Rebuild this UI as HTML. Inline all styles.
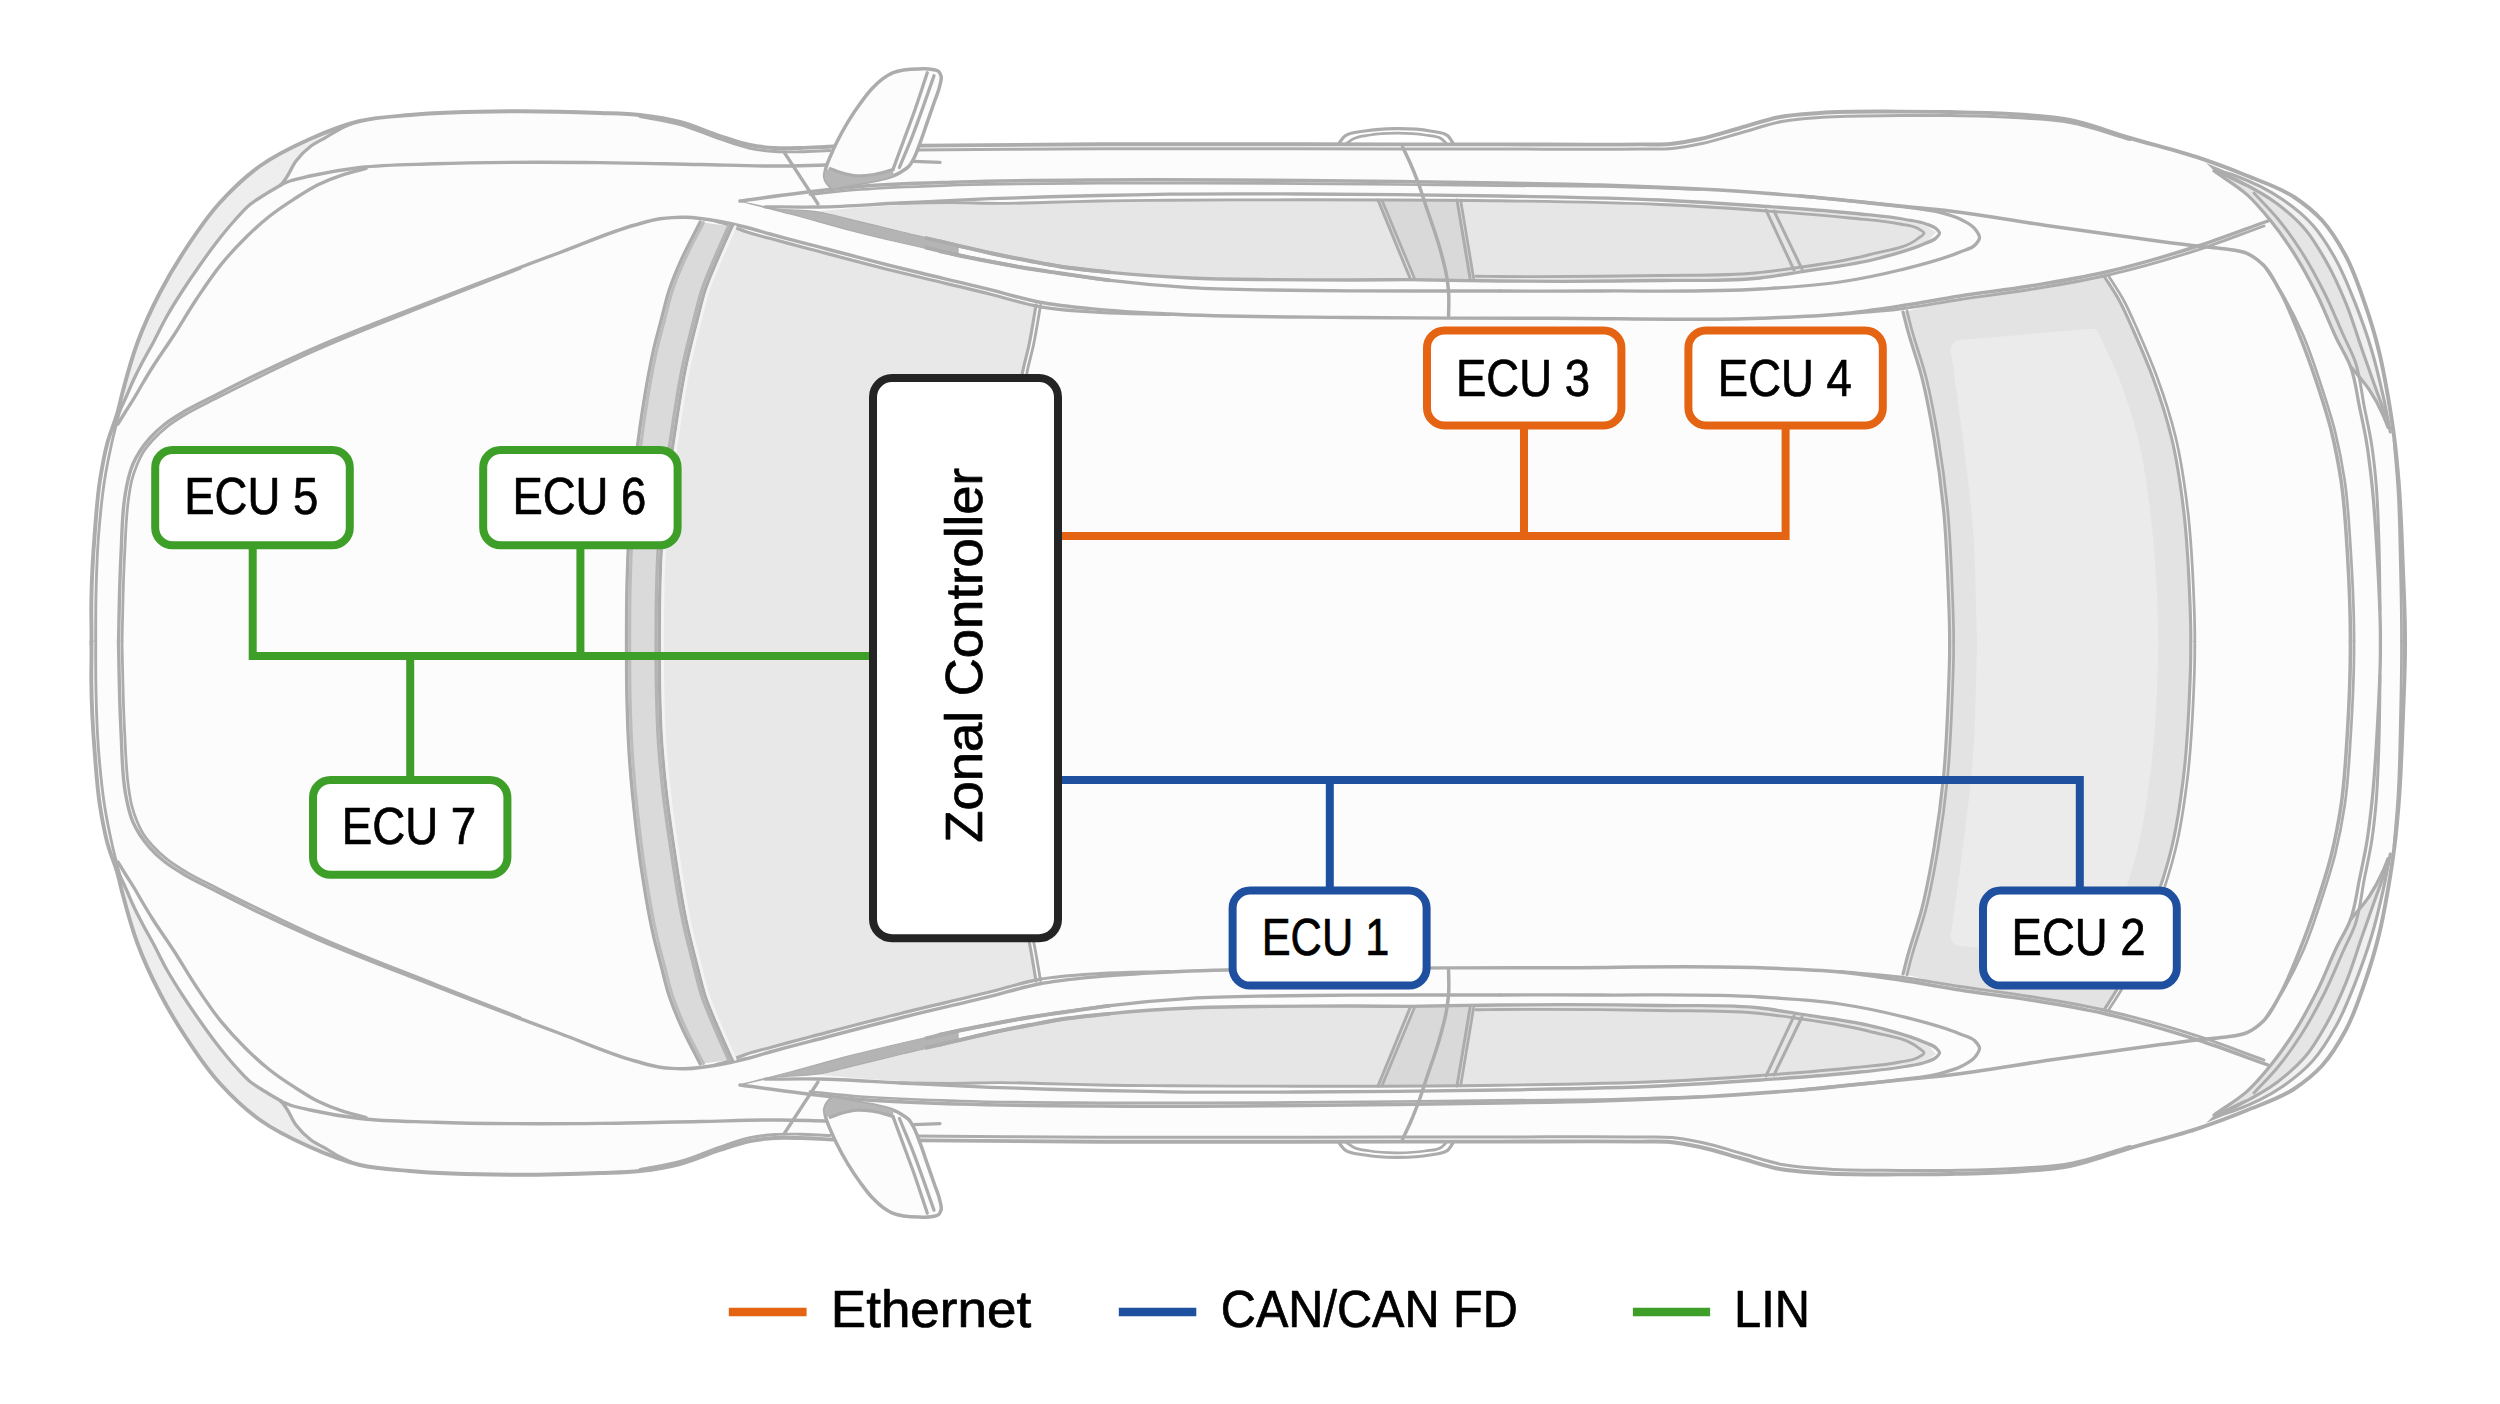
<!DOCTYPE html>
<html><head><meta charset="utf-8"><title>Zonal controller network</title>
<style>
html,body{margin:0;padding:0;background:#ffffff;}
body{width:2500px;height:1404px;overflow:hidden;}
svg{display:block;}
text{font-family:"Liberation Sans",sans-serif;}
</style></head><body>
<svg width="2500" height="1404" viewBox="0 0 2500 1404">
<rect width="2500" height="1404" fill="#ffffff"/>
<defs><g id="half">
<path d="M91.5 643.0 C91.4 630.3 91.1 617.7 91.3 605.0 C91.6 580.0 93.0 554.9 95.0 530.0 C96.3 513.3 97.4 496.5 100.0 480.0 C102.0 467.4 104.2 454.8 107.5 442.5 C110.3 432.3 114.6 422.6 117.5 412.5 C119.4 405.9 120.7 399.1 122.5 392.5 C126.9 375.7 131.5 358.8 137.5 342.5 C143.8 325.4 151.6 308.7 160.0 292.5 C167.6 277.9 176.0 263.7 185.0 250.0 C195.7 233.6 206.8 217.0 220.0 202.5 C232.1 189.2 245.4 176.4 260.0 166.0 C275.3 155.1 292.7 146.7 310.0 139.0 C326.1 131.8 342.9 125.0 360.0 121.0 C376.2 117.2 393.3 116.5 410.0 115.0 C443.2 111.9 476.7 111.6 510.0 111.3 C540.0 111.1 570.0 111.8 600.0 113.0 C613.3 113.5 626.8 113.5 640.0 115.0 C653.4 116.5 666.9 118.6 680.0 122.0 C693.6 125.5 706.6 131.7 720.0 136.0 C729.9 139.2 739.8 143.0 750.0 145.0 C758.2 146.6 766.6 147.5 775.0 148.0 C783.3 148.5 791.7 148.2 800.0 148.0 C811.3 147.8 822.7 146.9 834.0 146.5 C862.6 145.5 891.3 145.9 920.0 145.6 C980.0 145.0 1040.0 144.5 1100.0 144.3 C1166.7 144.0 1233.3 144.3 1300.0 144.3 C1366.7 144.3 1433.3 144.4 1500.0 144.4 C1546.7 144.4 1593.3 144.9 1640.0 144.4 C1650.0 144.3 1660.1 144.9 1670.0 144.0 C1680.1 143.1 1690.1 141.1 1700.0 139.0 C1713.5 136.1 1726.7 131.7 1740.0 128.0 C1753.3 124.3 1766.5 119.5 1780.0 117.0 C1793.1 114.6 1806.6 114.0 1820.0 113.0 C1846.6 111.1 1873.3 111.6 1900.0 111.6 C1916.7 111.6 1933.3 111.7 1950.0 112.0 C1970.0 112.4 1990.0 112.7 2010.0 114.0 C2030.0 115.3 2050.4 116.1 2070.0 120.0 C2090.4 124.0 2110.0 132.1 2130.0 138.0 C2153.3 144.9 2177.0 150.4 2200.0 158.2 C2215.8 163.6 2231.5 169.4 2247.0 175.8 C2262.9 182.3 2279.8 187.6 2294.0 197.0 C2304.1 203.7 2314.0 211.6 2322.2 220.5 C2331.6 230.8 2339.0 243.3 2345.7 255.7 C2353.7 270.5 2359.0 286.8 2364.5 302.7 C2369.9 318.1 2374.7 333.8 2378.6 349.7 C2382.5 365.2 2385.3 381.0 2388.0 396.7 C2390.7 412.3 2393.1 428.0 2395.0 443.7 C2396.4 455.8 2397.5 467.9 2398.5 480.0 C2401.0 509.9 2401.9 540.0 2403.0 570.0 C2403.9 594.3 2404.3 618.7 2405.0 643.0 L2405 644.0 L91.5 644.0 Z" fill="#fcfcfc" stroke="none"/>
<path d="M730.0 227.0 C743.3 230.7 756.7 234.3 770.0 238.0 C783.3 241.7 796.7 245.4 810.0 249.0 C839.9 257.1 869.9 265.0 900.0 272.5 C929.9 280.0 960.1 286.6 990.0 294.0 C1005.3 297.8 1020.7 301.7 1036.0 305.5 L1036.0 305.0 C1033.7 318.3 1031.8 331.8 1029.0 345.0 C1026.9 355.0 1023.9 364.9 1022.0 375.0 C1017.3 399.6 1016.9 425.0 1015.0 450.0 C1010.2 514.1 1011.7 578.7 1010.0 643.0 L1010 644.0 L657.3 644.0 L657.3 643.0 C657.5 623.7 657.4 604.3 657.9 585.0 C658.2 573.0 658.6 561.0 659.3 549.0 C660.3 532.6 661.8 516.3 663.5 500.0 C665.8 478.9 668.8 458.0 672.0 437.0 C675.8 411.9 679.3 386.8 684.7 362.0 C687.8 347.9 691.4 334.0 695.0 320.0 C697.6 310.0 699.8 299.8 703.0 290.0 C706.4 279.8 710.8 269.9 715.0 260.0 C719.8 248.6 725.0 237.3 730.0 226.0Z" fill="#e8e8e8" stroke="none"/>
<path d="M699.0 222.0 C692.7 234.7 685.7 247.1 680.0 260.0 C675.6 269.8 671.4 279.8 668.0 290.0 C664.8 299.8 662.6 310.0 660.0 320.0 C657.4 330.0 654.6 339.9 652.3 350.0 C647.6 370.5 644.2 391.2 641.0 412.0 C637.5 434.6 634.8 457.3 632.5 480.0 C630.4 500.0 628.6 520.0 627.5 540.0 C626.6 555.0 626.2 570.0 625.8 585.0 C625.3 604.3 625.5 623.7 625.3 643.0 L626 644.0 L657.3 644.0 L657.3 643.0 C657.5 623.7 657.4 604.3 657.9 585.0 C658.2 573.0 658.6 561.0 659.3 549.0 C660.3 532.6 661.8 516.3 663.5 500.0 C665.8 478.9 668.8 458.0 672.0 437.0 C675.8 411.9 679.3 386.8 684.7 362.0 C687.8 347.9 691.4 334.0 695.0 320.0 C697.6 310.0 699.8 299.8 703.0 290.0 C706.4 279.8 710.8 269.9 715.0 260.0 C719.8 248.6 725.0 237.3 730.0 226.0Z" fill="#dadada" stroke="none"/>
<path d="M819.0 211.0 C832.7 209.8 846.3 208.5 860.0 207.5 C873.3 206.5 886.7 205.7 900.0 205.0 C933.3 203.3 966.7 203.7 1000.0 203.0 C1033.3 202.3 1066.7 201.5 1100.0 201.0 C1166.7 200.0 1233.3 200.0 1300.0 200.0 C1366.7 200.0 1433.3 200.2 1500.0 200.8 C1553.3 201.3 1606.7 201.1 1660.0 203.0 C1693.3 204.2 1726.7 205.8 1760.0 208.0 C1793.4 210.2 1826.8 212.4 1860.0 216.0 C1875.0 217.6 1890.2 218.8 1905.0 221.5 C1912.0 222.8 1919.6 223.1 1926.0 226.0 C1929.5 227.6 1932.7 230.0 1936.0 232.0 L1936.0 232.0 C1933.3 235.0 1930.9 238.3 1928.0 241.0 C1915.9 252.2 1896.2 252.6 1880.0 257.0 C1853.9 264.1 1826.8 267.0 1800.0 271.0 C1786.7 273.0 1773.4 275.1 1760.0 276.5 C1726.9 280.0 1693.3 278.4 1660.0 279.0 C1606.7 279.9 1553.3 279.8 1500.0 279.8 C1470.0 279.8 1440.0 279.6 1410.0 279.6 C1373.3 279.6 1336.7 280.1 1300.0 279.8 C1263.3 279.5 1226.6 279.7 1190.0 278.0 C1163.3 276.7 1136.6 275.2 1110.0 272.4 C1093.3 270.6 1076.6 268.6 1060.0 266.0 C1050.0 264.4 1040.0 262.6 1030.0 260.8 C1016.7 258.4 1003.3 256.2 990.0 253.5 C978.3 251.1 966.6 248.3 955.0 245.5 C936.6 241.1 918.4 236.1 900.0 231.5 C883.4 227.4 866.7 223.3 850.0 219.3 C839.7 216.8 829.3 214.4 819.0 212.0Z" fill="#e6e6e6" stroke="none"/>
<path d="M1378.0 200.5 L1458.0 200.5 L1473.0 278.0 L1414.0 278.0Z" fill="#d9d9d9" stroke="none"/>
<path d="M1903.0 312.0 C1918.7 308.3 1934.3 304.3 1950.0 301.0 C1976.5 295.4 2003.3 291.3 2030.0 287.0 C2054.6 283.0 2079.3 279.7 2104.0 276.0 L2104.0 276.0 C2109.0 284.0 2114.4 291.8 2119.0 300.0 C2124.7 310.3 2129.2 321.2 2134.0 332.0 C2140.7 347.2 2147.3 362.4 2153.0 378.0 C2160.2 397.6 2166.7 417.7 2171.6 438.0 C2177.3 461.6 2180.7 485.9 2183.6 510.0 C2187.0 537.8 2188.4 566.0 2189.6 594.0 C2190.3 610.3 2190.4 626.7 2190.8 643.0 L2190.8 644.0 L1949.6 644.0 L1949.6 643.0 C1949.2 626.7 1949.0 610.3 1948.4 594.0 C1947.4 566.0 1946.3 537.9 1943.6 510.0 C1941.2 485.9 1938.0 461.9 1934.0 438.0 C1930.6 417.9 1927.0 397.7 1922.0 378.0 C1917.9 361.8 1911.9 346.1 1907.6 330.0 C1906.0 324.0 1904.5 318.0 1903.0 312.0Z" fill="#e3e3e3" stroke="none"/>
<path d="M1951 352 Q1950 341 1960 340 L2088 329 Q2096 328 2097 330 L2097.0 330.0 C2104.3 346.0 2112.4 361.7 2118.8 378.0 C2126.4 397.5 2133.0 417.7 2138.0 438.0 C2143.8 461.6 2146.9 485.9 2150.0 510.0 C2153.6 537.8 2155.6 565.9 2157.0 594.0 C2157.8 610.3 2157.9 626.7 2158.4 643.0 L2158.4 644.0 L1977.2 644.0 L1977.2 643.0 C1975.6 602.7 1975.8 562.2 1972.4 522.0 C1970.1 493.9 1966.3 466.0 1962.8 438.0 C1959.2 409.3 1954.9 380.7 1951.0 352.0Z" fill="#ebebeb" stroke="none"/>
<path d="M117.5 412.5 C119.2 405.8 120.7 399.1 122.5 392.5 C126.9 375.7 131.5 358.8 137.5 342.5 C143.8 325.4 151.6 308.7 160.0 292.5 C167.6 277.9 176.0 263.7 185.0 250.0 C195.7 233.6 206.8 217.0 220.0 202.5 C232.1 189.2 245.4 176.4 260.0 166.0 C275.3 155.1 292.7 146.6 310.0 139.0 C321.7 133.9 334.0 130.0 346.0 125.5 L352.0 123.6 C348.0 125.4 343.9 127.0 340.0 129.0 C335.2 131.5 330.7 134.6 326.0 137.3 C321.0 140.2 315.6 142.6 311.0 146.0 C305.4 150.2 300.2 155.4 296.0 161.0 C292.2 166.0 290.1 172.3 286.5 177.5 C284.8 180.1 282.8 182.5 281.0 185.0 L281.0 185.0 C275.7 188.2 270.2 191.2 265.0 194.5 C259.9 197.7 254.6 200.7 250.0 204.5 C244.5 209.0 239.8 214.7 235.0 220.0 C228.3 227.4 222.1 235.1 216.0 243.0 C210.5 250.2 205.2 257.6 200.0 265.0 C194.2 273.2 188.5 281.5 183.0 290.0 C177.5 298.5 172.0 307.1 167.0 316.0 C162.0 324.8 157.8 334.1 153.0 343.0 C149.2 350.0 145.2 356.9 141.5 364.0 C138.7 369.3 136.0 374.6 133.5 380.0 C131.2 384.9 129.2 390.0 127.0 395.0 C125.2 399.0 123.3 403.0 121.5 407.0 C120.2 410.0 118.8 413.0 117.5 416.0Z" fill="#eeeeee" stroke="none"/>
<path d="M2214.0 171.0 C2225.0 178.9 2237.0 185.6 2247.0 194.6 C2255.6 202.4 2263.2 211.5 2270.5 220.5 C2279.0 230.9 2286.8 242.1 2294.0 253.4 C2302.7 267.0 2310.3 281.3 2317.5 295.7 C2324.4 309.5 2329.7 324.1 2336.3 338.0 C2340.8 347.5 2345.7 356.8 2350.4 366.2 L2350.4 366.2 C2356.7 374.0 2363.7 381.4 2369.2 389.7 C2374.6 397.8 2378.6 406.9 2383.3 415.5 L2376.2 389.7 C2371.5 376.4 2366.8 363.0 2362.1 349.7 C2356.6 334.0 2352.0 318.0 2345.7 302.7 C2340.1 289.1 2334.1 275.6 2326.9 262.8 C2320.5 251.4 2314.1 239.8 2305.7 229.9 C2297.5 220.2 2287.6 211.7 2277.5 204.0 C2265.3 194.7 2251.4 187.4 2237.6 180.5 C2233.1 178.2 2228.5 176.2 2224.0 174.0Z" fill="#e5e5e5" stroke="none"/>
<path d="M2224.0 174.0 C2228.5 176.2 2233.1 178.2 2237.6 180.5 C2251.4 187.4 2265.3 194.7 2277.5 204.0 C2287.6 211.7 2297.5 220.2 2305.7 229.9 C2314.1 239.8 2320.5 251.4 2326.9 262.8 C2334.1 275.6 2340.1 289.1 2345.7 302.7 C2352.0 318.0 2356.6 334.0 2362.1 349.7 C2366.8 363.0 2371.4 376.4 2376.2 389.7 C2379.3 398.3 2382.5 406.9 2385.6 415.5 L2383.3 396.7 C2379.4 381.0 2376.1 365.2 2371.5 349.7 C2366.7 333.8 2361.1 318.1 2355.0 302.7 C2349.3 288.4 2343.7 273.8 2336.3 260.4 C2329.5 248.1 2322.1 235.6 2312.8 225.2 C2304.0 215.4 2293.2 206.8 2282.2 199.3 C2267.8 189.5 2251.6 181.7 2235.2 175.8 C2230.9 174.2 2226.4 172.9 2222.0 171.5Z" fill="#f0f0f0" stroke="none"/>
<path d="M91.5 644.5 C91.5 641.0 91.5 637.5 91.5 634.0 C91.5 624.3 91.2 614.7 91.3 605.0 C91.5 580.0 93.0 554.9 95.0 530.0 C96.3 513.3 97.4 496.5 100.0 480.0 C102.0 467.4 104.2 454.8 107.5 442.5 C110.3 432.3 114.6 422.6 117.5 412.5 C119.4 405.9 120.7 399.1 122.5 392.5 C126.9 375.7 131.5 358.8 137.5 342.5 C143.8 325.4 151.6 308.7 160.0 292.5 C167.6 277.9 176.0 263.7 185.0 250.0 C195.7 233.6 206.8 217.0 220.0 202.5 C232.1 189.2 245.4 176.4 260.0 166.0 C275.3 155.1 292.7 146.7 310.0 139.0 C326.1 131.8 342.9 125.0 360.0 121.0 C376.2 117.2 393.3 116.5 410.0 115.0 C443.2 111.9 476.7 111.6 510.0 111.3 C540.0 111.1 570.0 111.8 600.0 113.0 C613.3 113.5 626.8 113.5 640.0 115.0 C653.4 116.5 666.9 118.6 680.0 122.0 C693.6 125.5 706.6 131.7 720.0 136.0 C729.9 139.2 739.8 143.0 750.0 145.0 C758.2 146.6 766.6 147.5 775.0 148.0 C783.3 148.5 791.7 148.2 800.0 148.0 C811.3 147.8 822.7 146.9 834.0 146.5 C862.6 145.5 891.3 145.9 920.0 145.6 C980.0 145.0 1040.0 144.5 1100.0 144.3 C1166.7 144.0 1233.3 144.3 1300.0 144.3 C1366.7 144.3 1433.3 144.4 1500.0 144.4 C1546.7 144.4 1593.3 144.9 1640.0 144.4 C1650.0 144.3 1660.1 144.9 1670.0 144.0 C1680.1 143.1 1690.1 141.1 1700.0 139.0 C1713.5 136.1 1726.7 131.7 1740.0 128.0 C1753.3 124.3 1766.5 119.5 1780.0 117.0 C1793.1 114.6 1806.6 114.0 1820.0 113.0 C1846.6 111.1 1873.3 111.6 1900.0 111.6 C1916.7 111.6 1933.3 111.7 1950.0 112.0 C1970.0 112.4 1990.0 112.7 2010.0 114.0 C2030.0 115.3 2050.4 116.1 2070.0 120.0 C2090.4 124.0 2110.0 132.1 2130.0 138.0 C2153.3 144.9 2177.0 150.4 2200.0 158.2 C2215.8 163.6 2231.5 169.4 2247.0 175.8 C2262.9 182.3 2279.8 187.6 2294.0 197.0 C2304.1 203.7 2314.0 211.6 2322.2 220.5 C2331.6 230.8 2339.0 243.3 2345.7 255.7 C2353.7 270.5 2359.0 286.8 2364.5 302.7 C2369.9 318.1 2374.7 333.8 2378.6 349.7 C2382.5 365.2 2385.3 381.0 2388.0 396.7 C2390.7 412.3 2393.1 428.0 2395.0 443.7 C2396.4 455.8 2397.5 467.9 2398.5 480.0 C2401.0 509.9 2401.8 540.0 2403.0 570.0 C2403.8 591.3 2404.9 612.7 2405.0 634.0 C2405.0 637.5 2405.0 641.0 2405.0 644.5" fill="none" stroke="#acacac" stroke-width="3.91" stroke-linecap="round" stroke-linejoin="round" />
<path d="M915.0 150.0 C976.7 149.6 1038.3 149.0 1100.0 148.8 C1166.7 148.6 1233.3 148.8 1300.0 148.8 C1366.7 148.8 1433.3 149.0 1500.0 149.0 C1546.7 149.0 1593.3 149.6 1640.0 149.0 C1650.7 148.9 1661.4 149.5 1672.0 148.5 C1682.1 147.6 1692.1 145.6 1702.0 143.5 C1715.5 140.6 1728.7 136.2 1742.0 132.5 C1755.3 128.8 1768.5 124.0 1782.0 121.5 C1795.1 119.0 1808.6 118.3 1822.0 117.3 C1847.9 115.3 1874.0 115.8 1900.0 115.6 C1916.7 115.5 1933.3 115.4 1950.0 115.6 C1970.0 115.9 1990.0 116.2 2010.0 117.3 C2030.0 118.4 2050.3 118.9 2070.0 122.5 C2090.4 126.2 2110.0 133.8 2130.0 139.5" fill="none" stroke="#acacac" stroke-width="3.0" stroke-linecap="round" stroke-linejoin="round" />
<path d="M640.0 116.5 C653.3 119.2 666.9 120.9 680.0 124.5 C693.6 128.3 706.5 134.5 720.0 139.0 C729.9 142.3 739.8 146.2 750.0 148.3 C758.2 150.0 766.6 150.9 775.0 151.5 C783.3 152.1 791.7 151.9 800.0 151.8 C810.0 151.7 820.0 150.9 830.0 150.5" fill="none" stroke="#acacac" stroke-width="2.86" stroke-linecap="round" stroke-linejoin="round" />
<path d="M120.0 410.0 C117.3 420.7 114.4 431.3 112.0 442.0 C109.2 454.6 106.6 467.3 104.6 480.0 C102.0 496.6 100.4 513.3 99.0 530.0 C96.9 554.9 96.2 580.0 95.8 605.0 C95.7 614.7 95.7 624.3 95.7 634.0 C95.7 637.5 95.7 641.0 95.7 644.5" fill="none" stroke="#acacac" stroke-width="2.86" stroke-linecap="round" stroke-linejoin="round" />
<path d="M520.0 268.5 C492.0 279.5 463.9 290.4 436.0 301.5 C394.3 318.1 352.2 333.7 311.3 352.2 C294.3 359.9 277.4 368.0 260.6 376.2 C246.2 383.2 231.9 390.3 217.7 397.6 C207.4 402.9 196.8 407.6 186.9 413.6 C180.2 417.6 173.3 421.7 167.2 426.6 C162.0 430.7 157.0 435.3 152.6 440.2 C149.1 444.1 145.7 448.1 143.0 452.5 C140.4 456.7 138.4 461.4 136.5 466.0 C134.5 470.9 132.9 475.9 131.6 481.0 C130.5 485.3 129.9 489.7 129.2 494.0 C125.9 514.1 125.7 534.6 124.6 555.0 C123.2 580.0 122.9 605.0 122.3 630.0 C122.2 634.8 122.1 639.7 122.0 644.5" fill="none" stroke="#acacac" stroke-width="2.79" stroke-linecap="round" stroke-linejoin="round" />
<path d="M118.5 644.5 C118.6 639.7 118.7 634.8 118.8 630.0 C119.2 605.0 119.7 580.0 121.0 555.0 C122.1 534.1 121.8 513.0 125.5 492.5 C126.2 488.3 127.0 484.1 128.0 480.0 C129.3 474.6 130.8 469.1 133.0 464.0 C134.9 459.5 137.4 455.1 140.0 451.0 C142.9 446.4 146.4 442.1 150.0 438.0 C154.5 432.9 159.7 428.2 165.0 424.0 C171.2 419.1 178.2 415.1 185.0 411.0 C195.0 405.1 205.6 400.3 216.0 395.0 C230.3 387.7 244.6 380.5 259.0 373.5 C275.9 365.4 292.9 357.6 310.0 350.0 C351.0 331.8 393.2 316.3 435.0 300.0 C476.5 283.8 518.2 268.0 560.0 252.5 C585.0 243.2 609.4 232.1 635.0 225.0 C643.3 222.7 651.5 220.0 660.0 218.8 C664.0 218.2 668.0 217.8 672.0 217.6 C676.3 217.3 680.7 217.2 685.0 217.3 C696.7 217.5 708.4 219.4 720.0 221.5 C728.4 223.0 736.7 224.9 745.0 227.0 C753.4 229.1 761.7 231.7 770.0 234.0 C783.3 237.6 796.7 241.1 810.0 244.6 C840.0 252.5 869.9 260.5 900.0 268.0 C929.9 275.5 960.1 282.1 990.0 289.6 C1006.2 293.7 1022.2 298.8 1038.6 302.0 C1058.1 305.8 1078.1 307.5 1098.0 309.4 C1121.9 311.7 1146.0 312.8 1170.0 314.0 C1229.9 317.1 1290.0 316.8 1350.0 317.5 C1416.7 318.3 1483.3 318.1 1550.0 318.2 C1620.0 318.3 1690.1 320.9 1760.0 318.2 C1786.7 317.2 1813.4 316.6 1840.0 314.0 C1860.1 312.0 1880.0 309.0 1900.0 306.0 C1920.0 303.0 1940.0 299.1 1960.0 296.0 C1983.3 292.4 2006.7 289.8 2030.0 286.0 C2055.4 281.9 2080.9 277.7 2106.0 272.0 C2137.0 264.9 2167.7 255.8 2198.0 246.0 C2221.6 238.4 2244.7 229.3 2268.0 221.0" fill="none" stroke="#acacac" stroke-width="3.42" stroke-linecap="round" stroke-linejoin="round" />
<path d="M716.0 221.2 C720.0 222.3 724.1 223.2 728.0 224.6 C731.1 225.7 734.0 227.1 737.0 228.3 C739.8 229.4 742.6 230.6 745.5 231.6 C753.6 234.5 762.2 236.3 770.5 238.6 C783.8 242.2 797.2 245.7 810.5 249.2 C840.5 257.1 870.4 265.1 900.5 272.6 C930.4 280.1 960.6 286.7 990.5 294.2 C1006.7 298.3 1022.7 303.6 1039.1 306.6 C1059.1 310.3 1079.7 311.2 1100.0 312.5 C1123.3 314.0 1146.7 313.8 1170.0 314.5" fill="none" stroke="#acacac" stroke-width="3.14" stroke-linecap="round" stroke-linejoin="round" />
<path d="M1840.0 314.5 C1860.0 312.7 1880.1 311.5 1900.0 309.0 C1920.1 306.5 1940.0 302.5 1960.0 299.5 C1983.3 296.0 2006.7 293.3 2030.0 289.5 C2055.4 285.4 2080.9 281.2 2106.0 275.5 C2137.0 268.5 2167.7 259.7 2198.0 249.8 C2220.2 242.6 2242.0 233.9 2264.0 226.0" fill="none" stroke="#acacac" stroke-width="2.86" stroke-linecap="round" stroke-linejoin="round" />
<path d="M352.0 123.6 C348.0 125.4 343.9 127.0 340.0 129.0 C335.2 131.5 330.7 134.6 326.0 137.3 C321.0 140.2 315.6 142.6 311.0 146.0 C305.4 150.2 300.2 155.4 296.0 161.0 C292.2 166.0 290.1 172.3 286.5 177.5 C284.8 180.1 282.8 182.5 281.0 185.0" fill="none" stroke="#acacac" stroke-width="3.28" stroke-linecap="round" stroke-linejoin="round" />
<path d="M281.0 185.0 C275.7 188.2 270.2 191.2 265.0 194.5 C259.9 197.7 254.6 200.7 250.0 204.5 C244.5 209.0 239.8 214.7 235.0 220.0 C228.3 227.4 222.1 235.1 216.0 243.0 C210.5 250.2 205.2 257.6 200.0 265.0 C194.2 273.2 188.5 281.5 183.0 290.0 C177.5 298.5 172.0 307.1 167.0 316.0 C162.0 324.8 157.8 334.1 153.0 343.0 C149.2 350.0 145.2 356.9 141.5 364.0 C138.7 369.3 136.0 374.6 133.5 380.0 C131.2 384.9 129.2 390.0 127.0 395.0 C125.2 399.0 123.3 403.0 121.5 407.0 C120.2 410.0 118.8 413.0 117.5 416.0" fill="none" stroke="#acacac" stroke-width="3.28" stroke-linecap="round" stroke-linejoin="round" />
<path d="M281.0 184.5 C284.0 183.3 287.0 182.0 290.0 181.0 C296.5 178.8 303.3 177.5 310.0 176.0 C326.5 172.3 343.2 169.5 360.0 167.5 C384.8 164.5 410.0 164.7 435.0 163.8 C490.0 161.7 545.0 162.1 600.0 162.6 C633.3 162.9 666.7 163.9 700.0 164.5 C726.7 165.0 753.3 166.2 780.0 166.0 C795.3 165.9 810.7 165.3 826.0 165.0" fill="none" stroke="#acacac" stroke-width="3.42" stroke-linecap="round" stroke-linejoin="round" />
<path d="M914.0 161.4 C922.7 161.7 931.3 162.1 940.0 162.4" fill="none" stroke="#acacac" stroke-width="3.28" stroke-linecap="round" stroke-linejoin="round" />
<path d="M366.0 168.5 C358.0 170.7 349.9 172.5 342.0 175.1 C333.8 177.8 325.7 180.9 318.0 184.7 C309.5 188.9 301.6 194.2 293.7 199.3 C285.4 204.6 277.2 210.1 269.5 216.2 C261.0 222.9 253.0 230.4 245.3 238.0 C236.8 246.4 228.6 255.3 221.0 264.6 C212.3 275.3 204.6 287.0 196.9 298.5 C188.9 310.4 181.8 322.9 174.0 335.0 C166.8 346.1 159.0 356.8 152.0 368.0 C149.1 372.6 146.3 377.3 143.5 382.0 C140.4 387.1 137.6 392.4 134.5 397.5 C131.4 402.6 128.1 407.5 125.0 412.5 C122.6 416.3 120.3 420.2 118.0 424.0" fill="none" stroke="#acacac" stroke-width="3.35" stroke-linecap="round" stroke-linejoin="round" />
<path d="M700.2 222.0 C693.9 234.7 686.9 247.1 681.2 260.0 C676.8 269.8 672.6 279.8 669.2 290.0 C666.0 299.8 663.8 310.0 661.2 320.0 C658.6 330.0 655.8 339.9 653.5 350.0 C648.8 370.5 645.4 391.2 642.2 412.0 C638.7 434.6 636.0 457.3 633.7 480.0 C631.6 500.0 629.8 520.0 628.7 540.0 C627.8 555.0 627.4 570.0 627.0 585.0 C626.6 601.3 626.5 617.7 626.5 634.0 C626.5 637.5 626.5 641.0 626.5 644.5" fill="none" stroke="#acacac" stroke-width="3.28" stroke-linecap="round" stroke-linejoin="round" />
<path d="M703.4 222.5 C697.1 235.2 690.1 247.6 684.4 260.5 C680.0 270.3 675.8 280.3 672.4 290.5 C669.2 300.3 667.0 310.5 664.4 320.5 C661.8 330.5 659.0 340.4 656.7 350.5 C652.0 371.0 648.6 391.7 645.4 412.5 C641.9 435.1 639.2 457.8 636.9 480.5 C634.8 500.5 633.0 520.5 631.9 540.5 C631.0 555.5 630.6 570.5 630.2 585.5 C629.8 601.7 629.7 617.8 629.7 634.0 C629.7 637.5 629.7 641.0 629.7 644.5" fill="none" stroke="#bcbcbc" stroke-width="3.0" stroke-linecap="round" stroke-linejoin="round" />
<path d="M728.8 226.0 C723.8 237.3 718.6 248.6 713.8 260.0 C709.6 269.9 705.2 279.8 701.8 290.0 C698.6 299.8 696.4 310.0 693.8 320.0 C690.2 334.0 686.6 347.9 683.5 362.0 C678.1 386.8 674.6 411.9 670.8 437.0 C667.6 458.0 664.6 478.9 662.3 500.0 C660.6 516.3 659.1 532.6 658.1 549.0 C657.4 561.0 657.0 573.0 656.7 585.0 C656.2 601.3 656.1 617.7 656.1 634.0 C656.1 637.5 656.1 641.0 656.1 644.5" fill="none" stroke="#b4b4b4" stroke-width="3.28" stroke-linecap="round" stroke-linejoin="round" />
<path d="M732.0 226.5 C727.0 237.8 721.8 249.1 717.0 260.5 C712.8 270.4 708.4 280.3 705.0 290.5 C701.8 300.3 699.6 310.5 697.0 320.5 C693.4 334.5 689.8 348.4 686.7 362.5 C681.3 387.3 677.8 412.4 674.0 437.5 C670.8 458.5 667.8 479.4 665.5 500.5 C663.8 516.8 662.3 533.1 661.3 549.5 C660.6 561.5 660.2 573.5 659.9 585.5 C659.5 601.7 659.3 617.8 659.3 634.0 C659.3 637.5 659.3 641.0 659.3 644.5" fill="none" stroke="#acacac" stroke-width="3.28" stroke-linecap="round" stroke-linejoin="round" />
<path d="M735.2 226.8 C730.2 238.1 725.0 249.4 720.2 260.8 C716.0 270.7 711.6 280.6 708.2 290.8 C705.0 300.6 702.8 310.8 700.2 320.8 C696.6 334.8 693.0 348.7 689.9 362.8 C684.5 387.6 681.0 412.7 677.2 437.8 C674.0 458.8 671.0 479.7 668.7 500.8 C667.0 517.1 665.5 533.4 664.5 549.8 C663.8 561.8 663.4 573.8 663.1 585.8 C662.7 601.9 662.5 617.9 662.5 634.0 C662.5 637.5 662.5 641.0 662.5 644.5" fill="none" stroke="#f3f3f3" stroke-width="2.86" stroke-linecap="round" stroke-linejoin="round" />
<path d="M1036.0 305.0 C1033.7 318.3 1031.8 331.8 1029.0 345.0 C1026.9 355.0 1023.7 364.9 1022.0 375.0 C1020.6 383.3 1020.0 391.7 1019.0 400.0" fill="none" stroke="#acacac" stroke-width="3.14" stroke-linecap="round" stroke-linejoin="round" />
<path d="M1040.5 305.5 C1038.2 318.7 1036.2 331.9 1033.5 345.0 C1031.4 355.0 1028.2 364.9 1026.5 375.0 C1025.1 383.3 1024.5 391.7 1023.5 400.0" fill="none" stroke="#acacac" stroke-width="2.86" stroke-linecap="round" stroke-linejoin="round" />
<path d="M740.0 201.0 C760.0 198.3 780.0 195.4 800.0 193.0 C820.0 190.6 840.0 188.2 860.0 186.5 C893.2 183.7 926.7 183.1 960.0 182.0 C1006.6 180.5 1053.3 180.3 1100.0 180.0 C1166.7 179.5 1233.3 180.0 1300.0 180.5 C1366.7 181.0 1433.3 181.8 1500.0 183.0 C1533.3 183.6 1566.7 184.0 1600.0 185.0 C1633.3 186.0 1666.7 187.2 1700.0 189.0 C1733.4 190.8 1766.7 193.2 1800.0 196.0 C1833.4 198.8 1866.7 202.7 1900.0 206.0 C1916.7 207.7 1933.4 209.1 1950.0 211.0 C1983.5 214.9 2016.6 221.2 2050.0 226.0 C2083.3 230.8 2116.6 235.6 2150.0 240.0 C2166.7 242.2 2183.3 244.5 2200.0 246.3 C2207.8 247.2 2215.7 247.5 2223.5 248.7 C2231.4 249.9 2239.9 250.2 2247.0 253.4 C2253.0 256.1 2258.7 260.5 2263.4 265.1 C2270.6 272.1 2274.9 282.1 2279.9 291.0 C2287.4 304.4 2292.9 319.0 2298.7 333.3 C2305.6 350.3 2311.8 367.6 2317.5 385.0 C2322.6 400.5 2327.7 416.1 2331.6 432.0 C2335.5 447.8 2338.5 463.9 2341.0 480.0 C2344.8 504.8 2345.9 530.0 2347.5 555.0 C2349.1 581.3 2350.3 607.7 2350.4 634.0 C2350.4 637.5 2350.4 641.0 2350.4 644.5" fill="none" stroke="#acacac" stroke-width="3.56" stroke-linecap="round" stroke-linejoin="round" />
<path d="M810.0 194.5 C826.7 192.8 843.3 190.9 860.0 189.5 C893.2 186.8 926.7 186.1 960.0 185.0 C1006.6 183.5 1053.3 183.5 1100.0 183.2 C1166.7 182.8 1233.3 183.2 1300.0 183.6 C1366.7 184.0 1433.3 185.0 1500.0 185.6 C1533.3 185.9 1566.7 185.9 1600.0 186.5 C1633.3 187.1 1666.7 188.5 1700.0 189.5" fill="none" stroke="#acacac" stroke-width="2.72" stroke-linecap="round" stroke-linejoin="round" />
<path d="M2266.0 268.5 C2271.3 276.8 2277.0 285.0 2282.0 293.5 C2289.5 306.3 2296.3 319.7 2302.3 333.3 C2309.7 350.0 2315.3 367.6 2321.0 385.0 C2326.1 400.5 2331.3 416.1 2335.2 432.0 C2339.1 447.8 2342.2 463.9 2344.6 480.0 C2348.4 504.8 2349.4 530.0 2351.0 555.0 C2352.6 581.3 2353.9 607.6 2354.0 634.0 C2354.0 637.5 2354.0 641.0 2354.0 644.5" fill="none" stroke="#acacac" stroke-width="2.72" stroke-linecap="round" stroke-linejoin="round" />
<path d="M765.0 206.8 C783.0 206.9 801.0 207.3 819.0 207.0 C846.0 206.5 873.0 204.3 900.0 203.0 C930.0 201.5 960.0 199.9 990.0 198.7 C1026.7 197.3 1063.3 196.3 1100.0 195.5 C1123.3 195.0 1146.7 194.5 1170.0 194.2 C1213.3 193.7 1256.7 193.9 1300.0 194.0 C1366.7 194.2 1433.3 194.8 1500.0 196.0 C1553.3 197.0 1606.7 197.5 1660.0 200.0 C1693.4 201.6 1726.7 203.7 1760.0 206.0 C1793.4 208.3 1826.8 210.4 1860.0 214.0 C1875.0 215.6 1890.2 216.8 1905.0 219.5 C1912.0 220.8 1919.3 221.5 1926.0 224.0 C1929.4 225.3 1933.4 226.1 1936.0 228.5 C1937.4 229.8 1939.4 231.5 1939.5 233.0 C1939.6 234.6 1937.4 236.6 1936.0 238.0 C1933.2 240.9 1928.7 241.8 1925.0 243.5 C1910.7 250.1 1895.2 253.9 1880.0 258.0 C1853.9 265.0 1826.7 267.8 1800.0 272.0 C1786.7 274.1 1773.4 276.5 1760.0 278.0 C1726.9 281.8 1693.3 279.9 1660.0 280.5 C1606.7 281.4 1553.3 281.5 1500.0 281.0 C1470.0 280.7 1440.0 280.1 1410.0 279.6" fill="none" stroke="#acacac" stroke-width="3.28" stroke-linecap="round" stroke-linejoin="round" />
<path d="M900.0 203.2 C916.7 203.0 933.3 202.6 950.0 202.6 C966.7 202.6 983.3 203.4 1000.0 203.4 C1016.7 203.4 1033.3 202.7 1050.0 202.3 C1066.7 201.9 1083.3 201.3 1100.0 201.0 C1123.3 200.5 1146.7 200.5 1170.0 200.3 C1213.3 200.0 1256.7 199.8 1300.0 199.8 C1366.7 199.8 1433.3 199.8 1500.0 200.8 C1553.3 201.6 1606.7 202.1 1660.0 204.5 C1693.4 206.0 1726.7 208.1 1760.0 210.5 C1790.0 212.7 1820.1 214.8 1850.0 218.0 C1866.7 219.8 1883.6 220.5 1900.0 224.0 C1906.0 225.3 1912.7 225.4 1918.0 228.5 C1920.1 229.7 1923.8 231.4 1924.0 233.0 C1924.2 234.7 1920.1 236.8 1918.0 238.5 C1905.1 249.1 1886.2 250.1 1870.0 254.5 C1845.5 261.1 1820.1 264.4 1795.0 268.0 C1781.7 269.9 1768.4 271.7 1755.0 273.0 C1723.5 276.0 1691.7 274.9 1660.0 275.5 C1606.7 276.5 1553.3 276.8 1500.0 276.5 C1492.0 276.4 1484.0 276.4 1476.0 276.3" fill="none" stroke="#acacac" stroke-width="2.86" stroke-linecap="round" stroke-linejoin="round" />
<path d="M1800.0 196.0 C1820.0 197.9 1840.0 199.7 1860.0 201.8 C1873.3 203.2 1886.7 204.5 1900.0 206.3 C1913.4 208.1 1927.0 209.0 1940.0 212.5 C1947.5 214.5 1955.2 216.4 1962.0 220.0 C1966.6 222.5 1971.9 225.0 1975.0 229.0 C1977.0 231.6 1979.8 235.1 1979.5 238.0 C1979.2 240.4 1976.8 243.1 1975.0 245.0 C1971.3 248.9 1965.1 249.8 1960.0 252.0 C1940.9 260.2 1920.2 265.0 1900.0 270.0 C1880.2 274.9 1860.1 279.0 1840.0 282.0 C1813.6 286.0 1786.7 287.3 1760.0 289.0 C1706.8 292.3 1653.3 290.7 1600.0 291.0 C1566.7 291.2 1533.3 291.0 1500.0 291.0" fill="none" stroke="#acacac" stroke-width="3.28" stroke-linecap="round" stroke-linejoin="round" />
<path d="M741.0 201.5 C752.0 203.9 762.9 206.9 774.0 208.6 C788.8 210.9 804.2 209.5 819.0 212.0 C829.4 213.8 839.7 216.8 850.0 219.3 C866.7 223.3 883.3 227.5 900.0 231.5 C913.3 234.7 926.7 237.7 940.0 241.0 C946.0 242.5 952.0 244.0 958.0 245.5 L958.0 255.2 C952.0 254.0 946.0 252.8 940.0 251.5 C926.6 248.7 913.3 245.6 900.0 242.5 C883.3 238.6 866.6 234.6 850.0 230.3 C830.6 225.3 811.4 219.6 792.0 214.5 C775.0 210.0 758.0 205.8 741.0 201.5 Z" fill="#b4b4b4" stroke="#acacac" stroke-width="1.2" stroke-linejoin="round"/>
<path d="M940.0 241.0 C945.0 242.3 950.0 243.6 955.0 244.8 C966.6 247.7 978.3 250.4 990.0 253.0 C1003.3 255.9 1016.6 258.5 1030.0 261.0 C1040.0 262.9 1050.0 264.9 1060.0 266.5 C1076.6 269.1 1093.3 270.7 1110.0 272.4 C1136.6 275.0 1163.3 276.8 1190.0 278.0 C1216.6 279.2 1243.3 279.3 1270.0 279.6 C1296.7 279.9 1323.3 280.0 1350.0 280.0 C1370.0 280.0 1390.0 279.7 1410.0 279.6" fill="none" stroke="#acacac" stroke-width="3.35" stroke-linecap="round" stroke-linejoin="round" />
<path d="M940.0 251.5 C945.0 252.5 950.0 253.5 955.0 254.5 C966.7 256.8 978.3 259.3 990.0 261.5 C1003.3 264.1 1016.6 266.6 1030.0 268.8 C1040.0 270.4 1050.0 271.8 1060.0 273.3 C1076.7 275.7 1093.3 278.4 1110.0 280.4 C1136.6 283.6 1163.3 286.0 1190.0 287.6 C1216.6 289.2 1243.3 289.5 1270.0 290.0 C1296.7 290.5 1323.3 290.6 1350.0 290.8 C1400.0 291.1 1450.0 290.9 1500.0 291.0" fill="none" stroke="#acacac" stroke-width="3.35" stroke-linecap="round" stroke-linejoin="round" />
<path d="M925.0 237.8 C935.0 240.1 945.0 242.5 955.0 244.8 C966.7 247.5 978.3 250.4 990.0 253.0 C1003.3 255.9 1016.6 258.5 1030.0 261.0 C1040.0 262.9 1050.0 264.9 1060.0 266.5 C1076.6 269.1 1093.3 270.4 1110.0 272.4" fill="none" stroke="#acacac" stroke-width="3.91" stroke-linejoin="round" stroke-linecap="butt"/>
<path d="M925.0 247.4 C935.0 249.8 945.0 252.3 955.0 254.5 C966.6 257.1 978.3 259.3 990.0 261.5 C1003.3 264.1 1016.6 266.6 1030.0 268.8 C1040.0 270.4 1050.0 271.8 1060.0 273.3 C1076.7 275.7 1093.3 278.0 1110.0 280.4" fill="none" stroke="#acacac" stroke-width="3.91" stroke-linejoin="round" stroke-linecap="butt"/>
<path d="M1378.0 200.0 L1410.0 278.0" fill="none" stroke="#acacac" stroke-width="3.0" stroke-linecap="round" stroke-linejoin="round" />
<path d="M1382.3 201.0 L1414.3 278.0" fill="none" stroke="#acacac" stroke-width="2.72" stroke-linecap="round" stroke-linejoin="round" />
<path d="M1457.0 200.0 L1470.0 278.0" fill="none" stroke="#acacac" stroke-width="3.0" stroke-linecap="round" stroke-linejoin="round" />
<path d="M1460.6 200.0 L1473.6 278.0" fill="none" stroke="#acacac" stroke-width="2.72" stroke-linecap="round" stroke-linejoin="round" />
<path d="M1402.6 147.0 C1405.3 152.7 1408.1 158.3 1410.6 164.0 C1413.5 170.6 1416.1 177.3 1418.6 184.0 C1421.5 191.9 1423.9 200.0 1426.6 208.0 C1430.6 220.0 1435.1 231.9 1438.6 244.0 C1441.6 254.6 1444.8 265.2 1446.6 276.0 C1447.5 281.3 1448.2 286.6 1448.6 292.0 C1449.2 300.0 1448.6 308.0 1448.6 316.0" fill="none" stroke="#acacac" stroke-width="3.49" stroke-linecap="round" stroke-linejoin="round" />
<path d="M1766.0 210.0 L1794.0 270.0" fill="none" stroke="#acacac" stroke-width="3.0" stroke-linecap="round" stroke-linejoin="round" />
<path d="M1774.0 211.0 L1802.0 269.0" fill="none" stroke="#acacac" stroke-width="3.0" stroke-linecap="round" stroke-linejoin="round" />
<path d="M1339.0 143.0 C1341.0 140.7 1342.7 137.8 1345.0 136.0 C1350.2 131.9 1358.3 132.2 1365.0 131.0 C1375.2 129.2 1385.7 128.7 1396.0 128.6 C1407.3 128.5 1418.9 128.8 1430.0 131.0 C1436.1 132.2 1443.6 132.0 1448.0 136.0 C1450.0 137.8 1451.3 140.7 1453.0 143.0" fill="none" stroke="#acacac" stroke-width="3.14" stroke-linecap="round" stroke-linejoin="round" />
<path d="M1347.0 143.0 C1349.3 141.5 1351.5 139.7 1354.0 138.5 C1358.8 136.1 1364.6 135.9 1370.0 135.0 C1378.6 133.6 1387.3 133.3 1396.0 133.2 C1405.7 133.1 1415.5 133.5 1425.0 135.0 C1430.4 135.9 1436.6 135.6 1441.0 138.5 C1442.8 139.7 1444.3 141.5 1446.0 143.0" fill="none" stroke="#acacac" stroke-width="2.72" stroke-linecap="round" stroke-linejoin="round" />
<path d="M784.0 152.0 L818.0 204.0" fill="none" stroke="#acacac" stroke-width="3.28" stroke-linecap="round" stroke-linejoin="round" />
<path d="M825.1 171.7 C826.0 165.6 828.9 159.8 831.3 154.1 C832.9 150.3 834.7 146.5 836.5 142.8 C840.0 135.7 843.7 128.8 847.8 122.1 C851.7 115.7 855.8 109.5 860.2 103.5 C864.1 98.2 868.0 92.7 872.6 88.0 C875.8 84.7 879.2 81.4 882.9 78.7 C886.1 76.4 889.5 74.1 893.2 72.6 C896.5 71.3 900.1 70.6 903.6 70.0 C908.7 69.1 913.9 68.9 919.0 68.9 C923.5 68.9 928.1 68.5 932.5 69.5 C934.6 70.0 937.2 70.1 938.7 71.5 C939.8 72.5 940.5 74.2 941.0 75.7 C942.0 78.9 940.4 82.6 939.7 86.0 C938.6 91.3 936.3 96.3 934.5 101.5 C932.1 108.4 929.7 115.2 927.3 122.1 C924.9 129.0 922.7 136.0 920.1 142.8 C918.1 148.0 916.5 153.3 913.9 158.2 C912.4 161.1 910.9 164.2 908.7 166.5 C906.7 168.6 904.0 170.2 901.5 171.7 C898.9 173.3 896.1 174.7 893.3 175.8 C890.0 177.2 886.4 178.0 882.9 178.9 C876.1 180.7 869.2 181.7 862.3 183.0 C855.4 184.3 848.5 185.3 841.6 186.6 C838.9 187.1 835.8 188.8 833.4 188.2 C831.0 187.6 828.7 185.1 827.2 183.0 C825.9 181.2 824.9 179.0 824.6 176.8 C824.4 175.2 824.8 173.4 825.1 171.7Z" fill="#fcfcfc" stroke="#acacac" stroke-width="3.5" stroke-linejoin="round"/>
<path d="M828.0 169.2 C828.8 169.0 829.5 168.7 830.3 168.6 C834.2 168.0 837.8 171.6 841.6 172.7 C846.6 174.2 851.9 175.5 857.1 175.8 C862.2 176.1 867.5 175.5 872.6 174.8 C879.6 173.8 886.4 171.3 893.3 169.6 L893.3 175.8 C889.8 176.8 886.4 178.0 882.9 178.9 C876.1 180.7 869.2 181.7 862.3 183.0 C855.4 184.3 848.5 185.3 841.6 186.6 C838.9 187.1 835.8 188.8 833.4 188.2 C831.0 187.6 828.7 185.1 827.2 183.0 C825.9 181.2 824.9 179.0 824.6 176.8 C824.4 175.2 824.9 173.4 825.1 171.7 Z" fill="#b6b6b6" stroke="none"/>
<path d="M830.3 168.6 C834.1 170.0 837.8 171.6 841.6 172.7 C846.6 174.2 851.9 175.5 857.1 175.8 C862.2 176.1 867.5 175.5 872.6 174.8 C879.6 173.8 886.4 171.3 893.3 169.6" fill="none" stroke="#acacac" stroke-width="3.14" stroke-linecap="round" stroke-linejoin="round" />
<path d="M927.3 72.8 C922.8 86.1 918.6 99.5 913.9 112.8 C910.6 122.1 907.0 131.4 903.6 140.7 C900.2 150.0 896.7 159.3 893.3 168.6" fill="none" stroke="#acacac" stroke-width="3.28" stroke-linecap="round" stroke-linejoin="round" />
<path d="M934.0 75.7 C930.4 86.0 926.9 96.3 923.2 106.6 C919.5 117.0 915.8 127.3 911.8 137.6 C907.9 147.6 903.5 157.5 899.4 167.5" fill="none" stroke="#acacac" stroke-width="3.28" stroke-linecap="round" stroke-linejoin="round" />
<path d="M1903.0 312.0 C1904.5 318.0 1906.0 324.0 1907.6 330.0 C1911.9 346.1 1917.9 361.8 1922.0 378.0 C1927.0 397.7 1930.6 417.9 1934.0 438.0 C1938.0 461.9 1941.2 485.9 1943.6 510.0 C1946.3 537.9 1947.3 566.0 1948.4 594.0 C1948.9 607.3 1949.5 620.7 1949.6 634.0 C1949.6 637.5 1949.6 641.0 1949.6 644.5" fill="none" stroke="#acacac" stroke-width="3.14" stroke-linecap="round" stroke-linejoin="round" />
<path d="M1907.0 311.0 C1908.5 317.0 1910.0 323.0 1911.6 329.0 C1915.9 345.1 1921.9 360.8 1926.0 377.0 C1931.0 396.7 1934.6 416.9 1938.0 437.0 C1942.0 460.9 1945.2 484.9 1947.6 509.0 C1950.3 536.9 1951.3 565.0 1952.4 593.0 C1952.9 606.7 1953.5 620.3 1953.6 634.0 C1953.6 637.5 1953.6 641.0 1953.6 644.5" fill="none" stroke="#acacac" stroke-width="2.72" stroke-linecap="round" stroke-linejoin="round" />
<path d="M2104.0 276.0 C2109.0 284.0 2114.4 291.8 2119.0 300.0 C2124.7 310.3 2129.2 321.2 2134.0 332.0 C2140.7 347.2 2147.3 362.4 2153.0 378.0 C2160.2 397.6 2166.7 417.7 2171.6 438.0 C2177.3 461.6 2180.7 485.9 2183.6 510.0 C2187.0 537.8 2188.4 566.0 2189.6 594.0 C2190.2 607.3 2190.7 620.7 2190.8 634.0 C2190.8 637.5 2190.8 641.0 2190.8 644.5" fill="none" stroke="#acacac" stroke-width="3.14" stroke-linecap="round" stroke-linejoin="round" />
<path d="M2108.0 275.0 C2113.0 283.0 2118.4 290.8 2123.0 299.0 C2128.7 309.3 2133.2 320.2 2138.0 331.0 C2144.7 346.2 2151.3 361.4 2157.0 377.0 C2164.2 396.6 2170.7 416.7 2175.6 437.0 C2181.3 460.6 2184.7 484.9 2187.6 509.0 C2191.0 536.8 2192.4 565.0 2193.6 593.0 C2194.2 606.7 2194.7 620.3 2194.8 634.0 C2194.8 637.5 2194.8 641.0 2194.8 644.5" fill="none" stroke="#acacac" stroke-width="2.72" stroke-linecap="round" stroke-linejoin="round" />
<path d="M2214.0 171.0 C2225.0 178.9 2237.0 185.6 2247.0 194.6 C2255.6 202.4 2263.2 211.5 2270.5 220.5 C2279.0 230.9 2286.8 242.1 2294.0 253.4 C2302.7 267.0 2310.3 281.3 2317.5 295.7 C2324.4 309.5 2329.7 324.1 2336.3 338.0 C2340.8 347.5 2346.7 356.4 2350.4 366.2 C2355.5 379.6 2356.8 394.4 2359.8 408.5 C2362.3 420.2 2364.9 431.9 2366.8 443.7 C2368.8 455.7 2370.1 467.9 2371.5 480.0 C2374.9 509.9 2376.4 540.0 2378.0 570.0 C2379.1 591.3 2380.3 612.7 2380.4 634.0 C2380.4 637.5 2380.4 641.0 2380.4 644.5" fill="none" stroke="#acacac" stroke-width="3.28" stroke-linecap="round" stroke-linejoin="round" />
<path d="M2254.0 193.0 C2261.8 201.5 2270.2 209.6 2277.5 218.5 C2286.0 228.8 2293.8 239.8 2301.0 251.0 C2309.7 264.5 2317.3 278.7 2324.5 293.0 C2331.4 306.7 2337.0 321.0 2343.3 335.0 C2347.2 343.7 2351.9 352.1 2355.0 361.0 C2360.3 376.0 2361.4 392.3 2364.5 408.0 C2366.9 419.9 2369.6 431.7 2371.5 443.7 C2373.4 455.7 2374.7 467.9 2375.8 480.0 C2377.8 501.6 2378.3 523.3 2379.0 545.0 C2379.7 566.7 2379.7 588.3 2380.0 610.0" fill="none" stroke="#acacac" stroke-width="3.0" stroke-linecap="round" stroke-linejoin="round" />
<path d="M2350.4 366.2 C2356.7 374.0 2363.7 381.4 2369.2 389.7 C2374.6 397.8 2379.3 406.5 2383.3 415.5 C2385.0 419.4 2386.4 423.4 2388.0 427.3" fill="none" stroke="#acacac" stroke-width="3.28" stroke-linecap="round" stroke-linejoin="round" />
<path d="M2224.0 174.0 C2228.5 176.2 2233.1 178.2 2237.6 180.5 C2251.4 187.4 2265.3 194.7 2277.5 204.0 C2287.6 211.7 2297.5 220.2 2305.7 229.9 C2314.1 239.8 2320.5 251.4 2326.9 262.8 C2334.1 275.6 2340.1 289.1 2345.7 302.7 C2352.0 318.0 2356.6 334.0 2362.1 349.7 C2366.8 363.0 2371.4 376.4 2376.2 389.7 C2379.3 398.3 2382.5 406.9 2385.6 415.5" fill="none" stroke="#acacac" stroke-width="3.14" stroke-linecap="round" stroke-linejoin="round" />
<path d="M2222.0 171.5 C2226.4 172.9 2230.9 174.2 2235.2 175.8 C2251.6 181.7 2267.8 189.5 2282.2 199.3 C2293.2 206.8 2304.0 215.4 2312.8 225.2 C2322.1 235.6 2329.5 248.1 2336.3 260.4 C2343.7 273.8 2349.3 288.4 2355.0 302.7 C2361.1 318.1 2366.7 333.8 2371.5 349.7 C2376.1 365.2 2379.8 380.9 2383.3 396.7 C2385.9 408.4 2388.0 420.2 2390.3 432.0" fill="none" stroke="#acacac" stroke-width="3.14" stroke-linecap="round" stroke-linejoin="round" />
<path d="M2394.0 440.0 C2395.3 456.7 2397.0 473.3 2398.0 490.0 C2399.6 516.6 2399.9 543.3 2400.5 570.0 C2401.0 591.3 2401.5 612.7 2401.5 634.0 C2401.5 637.5 2401.5 641.0 2401.5 644.5" fill="none" stroke="#acacac" stroke-width="2.72" stroke-linecap="round" stroke-linejoin="round" />
<path d="M2206 163 L2222 169.5 L2246 187 L2216 172.5Z" fill="#acacac"/>
</g></defs>
<use href="#half"/>
<use href="#half" transform="matrix(1 0 0 -1 0 1286)"/>
<g id="net">
<path d="M252.7 545.0 L252.7 656.0 L873.0 656.0" fill="none" stroke="#3e9f28" stroke-width="8" stroke-linejoin="miter" stroke-linecap="butt"/>
<path d="M580.4 545.0 L580.4 656.0" fill="none" stroke="#3e9f28" stroke-width="8" stroke-linejoin="miter" stroke-linecap="butt"/>
<path d="M410.2 656.0 L410.2 780.0" fill="none" stroke="#3e9f28" stroke-width="8" stroke-linejoin="miter" stroke-linecap="butt"/>
<path d="M1058.0 536.0 L1785.6 536.0 L1785.6 425.0" fill="none" stroke="#e56414" stroke-width="8" stroke-linejoin="miter" stroke-linecap="butt"/>
<path d="M1524.0 425.0 L1524.0 536.0" fill="none" stroke="#e56414" stroke-width="8" stroke-linejoin="miter" stroke-linecap="butt"/>
<path d="M1058.0 780.0 L2079.8 780.0 L2079.8 890.0" fill="none" stroke="#1f4f9f" stroke-width="8" stroke-linejoin="miter" stroke-linecap="butt"/>
<path d="M1329.8 780.0 L1329.8 890.0" fill="none" stroke="#1f4f9f" stroke-width="8" stroke-linejoin="miter" stroke-linecap="butt"/>
<rect x="155.2" y="450.0" width="194.6" height="95.2" rx="17.5" ry="17.5" fill="#ffffff" stroke="#3e9f28" stroke-width="8"/>
<rect x="483.2" y="450.0" width="194.4" height="95.2" rx="17.5" ry="17.5" fill="#ffffff" stroke="#3e9f28" stroke-width="8"/>
<rect x="313.0" y="780.0" width="194.4" height="94.8" rx="17.5" ry="17.5" fill="#ffffff" stroke="#3e9f28" stroke-width="8"/>
<rect x="1427.0" y="330.4" width="194.4" height="95.0" rx="17.5" ry="17.5" fill="#ffffff" stroke="#e56414" stroke-width="8"/>
<rect x="1688.4" y="330.4" width="194.4" height="95.0" rx="17.5" ry="17.5" fill="#ffffff" stroke="#e56414" stroke-width="8"/>
<rect x="1232.6" y="890.6" width="194.0" height="95.0" rx="17.5" ry="17.5" fill="#ffffff" stroke="#1f4f9f" stroke-width="8"/>
<rect x="1983.0" y="890.6" width="193.8" height="95.0" rx="17.5" ry="17.5" fill="#ffffff" stroke="#1f4f9f" stroke-width="8"/>
<rect x="873.0" y="378.0" width="185.0" height="560.2" rx="19" ry="19" fill="#ffffff" stroke="#232423" stroke-width="8"/>
<text x="251.2" y="514.2" font-size="51.3" text-anchor="middle" textLength="134" lengthAdjust="spacingAndGlyphs" fill="#000" stroke="#000" stroke-width="0.7" stroke-linejoin="round">ECU 5</text>
<text x="579.4" y="514.2" font-size="51.3" text-anchor="middle" textLength="134" lengthAdjust="spacingAndGlyphs" fill="#000" stroke="#000" stroke-width="0.7" stroke-linejoin="round">ECU 6</text>
<text x="409.0" y="844.2" font-size="51.3" text-anchor="middle" textLength="134.5" lengthAdjust="spacingAndGlyphs" fill="#000" stroke="#000" stroke-width="0.7" stroke-linejoin="round">ECU 7</text>
<text x="1523" y="395.6" font-size="51.3" text-anchor="middle" textLength="134" lengthAdjust="spacingAndGlyphs" fill="#000" stroke="#000" stroke-width="0.7" stroke-linejoin="round">ECU 3</text>
<text x="1784.8" y="395.6" font-size="51.3" text-anchor="middle" textLength="134" lengthAdjust="spacingAndGlyphs" fill="#000" stroke="#000" stroke-width="0.7" stroke-linejoin="round">ECU 4</text>
<text x="1325.5" y="955" font-size="51.3" text-anchor="middle" textLength="127.5" lengthAdjust="spacingAndGlyphs" fill="#000" stroke="#000" stroke-width="0.7" stroke-linejoin="round">ECU 1</text>
<text x="2078.6" y="955" font-size="51.3" text-anchor="middle" textLength="134" lengthAdjust="spacingAndGlyphs" fill="#000" stroke="#000" stroke-width="0.7" stroke-linejoin="round">ECU 2</text>
<text x="982.4" y="655.3" font-size="51.3" text-anchor="middle" textLength="375" lengthAdjust="spacingAndGlyphs" fill="#000" stroke="#000" stroke-width="0.7" stroke-linejoin="round" transform="rotate(-90 982.4 655.3)">Zonal Controller</text>
<path d="M728.8 1312.0 L806.6 1312.0" fill="none" stroke="#e56414" stroke-width="8.6" stroke-linejoin="miter" stroke-linecap="butt"/>
<path d="M1118.8 1312.0 L1196.3 1312.0" fill="none" stroke="#1f4f9f" stroke-width="8.6" stroke-linejoin="miter" stroke-linecap="butt"/>
<path d="M1632.9 1312.0 L1710.1 1312.0" fill="none" stroke="#3e9f28" stroke-width="8.6" stroke-linejoin="miter" stroke-linecap="butt"/>
<text x="830.8" y="1327.3" font-size="51.3" text-anchor="start" textLength="200.4" lengthAdjust="spacingAndGlyphs" fill="#000" stroke="#000" stroke-width="0.7" stroke-linejoin="round">Ethernet</text>
<text x="1220.8" y="1327.3" font-size="51.3" text-anchor="start" textLength="297" lengthAdjust="spacingAndGlyphs" fill="#000" stroke="#000" stroke-width="0.7" stroke-linejoin="round">CAN/CAN FD</text>
<text x="1734" y="1327.3" font-size="51.3" text-anchor="start" textLength="75.9" lengthAdjust="spacingAndGlyphs" fill="#000" stroke="#000" stroke-width="0.7" stroke-linejoin="round">LIN</text>
</g>
</svg>
</body></html>
